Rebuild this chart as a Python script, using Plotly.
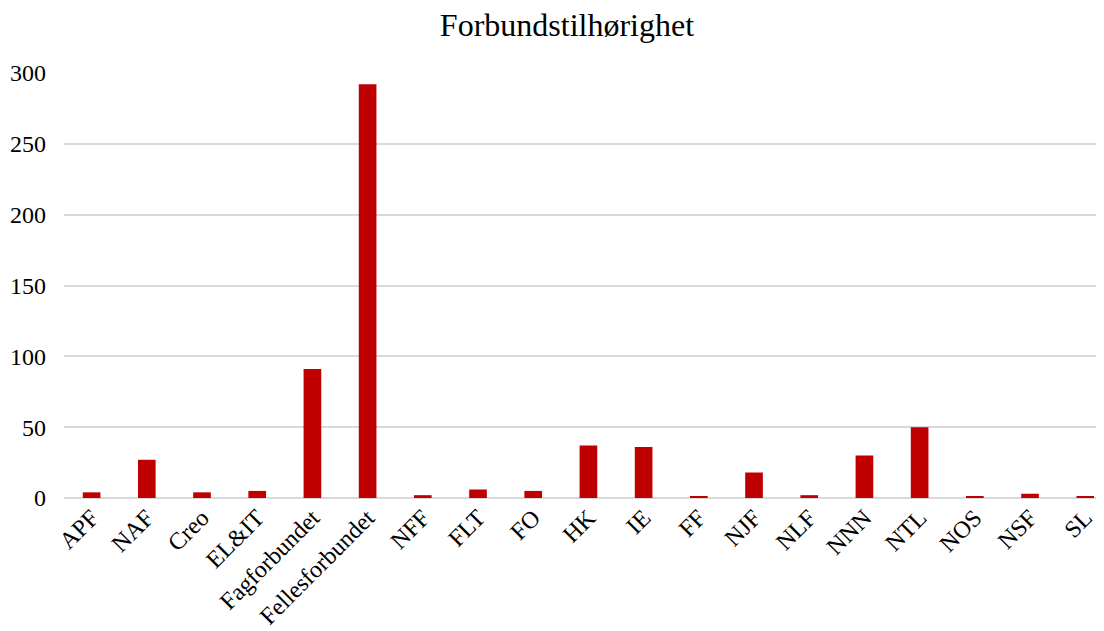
import plotly.graph_objects as go

categories = ["APF", "NAF", "Creo", "EL&IT", "Fagforbundet", "Fellesforbundet", "NFF", "FLT", "FO",
              "HK", "IE", "FF", "NJF", "NLF", "NNN", "NTL", "NOS", "NSF", "SL"]
values = [4, 27, 4, 5, 91, 292, 2, 6, 5, 37, 36, 1, 18, 2, 30, 50, 1, 3, 1]
y_ticks = [0, 50, 100, 150, 200, 250, 300]

font_family = "Liberation Serif, Times New Roman, serif"

fig = go.Figure(go.Bar(x=categories, y=values, marker_color="#C00000", marker_line_width=0))

fig.update_layout(
    width=1096, height=623,
    paper_bgcolor="white", plot_bgcolor="white",
    title=dict(text="Forbundstilhørighet", x=0.51, xanchor="center", y=0.973, yanchor="middle",
               font=dict(family=font_family, size=32, color="black")),
    margin=dict(l=56, r=0, t=65, b=133),
    bargap=0.68,
    font=dict(family=font_family, size=24, color="black"),
    showlegend=False,
)
fig.update_xaxes(type="category", range=[-0.5, 18.34], tickangle=-45, showgrid=False,
                 showline=False, ticks="", tickfont=dict(size=24), automargin=False)
fig.update_yaxes(range=[0, 300], tickvals=y_ticks, showgrid=True, gridcolor="#d9d9d9", gridwidth=1.5,
                 zeroline=True, zerolinecolor="#d9d9d9", zerolinewidth=1.5, showline=False,
                 ticks="", ticklabelstandoff=17, tickfont=dict(size=24), automargin=False)

fig.write_html("out.html")
